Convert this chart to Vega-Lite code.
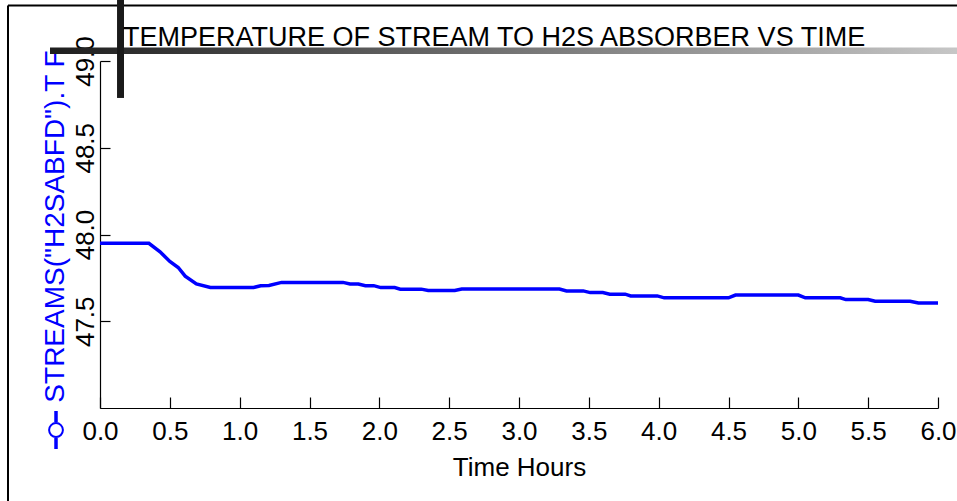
{
  "$schema": "https://vega.github.io/schema/vega-lite/v6.json",
  "autosize": "none",
  "padding": {"left": 100, "top": 61, "right": 19, "bottom": 93},
  "width": 838,
  "height": 347,
  "background": "white",
  "config": {
    "view": {"stroke": null},
    "font": "Liberation Sans",
    "axis": {"grid": false, "domainColor": "black", "tickColor": "black", "labelColor": "black", "labelFont": "Liberation Sans", "titleFont": "Liberation Sans", "titleFontWeight": "normal"}
  },
  "title": {
    "text": "TEMPERATURE OF STREAM TO H2S ABSORBER VS TIME",
    "anchor": "start",
    "frame": "group",
    "dx": 23,
    "dy": 92,
    "offset": 14,
    "baseline": "alphabetic",
    "fontSize": 27,
    "fontWeight": "normal",
    "font": "Liberation Sans",
    "color": "black"
  },
  "layer": [
    {
      "data": {"values": [
        {"t": 0, "v": 47.949}, {"t": 0.35, "v": 47.949}, {"t": 0.43, "v": 47.9}, {"t": 0.5, "v": 47.845},
        {"t": 0.56, "v": 47.81}, {"t": 0.61, "v": 47.76}, {"t": 0.69, "v": 47.715}, {"t": 0.79, "v": 47.695},
        {"t": 1.1, "v": 47.695}, {"t": 1.15, "v": 47.705}, {"t": 1.21, "v": 47.706}, {"t": 1.3, "v": 47.724},
        {"t": 1.74, "v": 47.724}, {"t": 1.79, "v": 47.715}, {"t": 1.85, "v": 47.715}, {"t": 1.9, "v": 47.705},
        {"t": 1.96, "v": 47.705}, {"t": 2.01, "v": 47.694}, {"t": 2.11, "v": 47.694}, {"t": 2.15, "v": 47.685},
        {"t": 2.3, "v": 47.685}, {"t": 2.35, "v": 47.677}, {"t": 2.54, "v": 47.677}, {"t": 2.59, "v": 47.686},
        {"t": 3.29, "v": 47.686}, {"t": 3.34, "v": 47.675}, {"t": 3.46, "v": 47.675}, {"t": 3.51, "v": 47.665},
        {"t": 3.6, "v": 47.665}, {"t": 3.65, "v": 47.656}, {"t": 3.76, "v": 47.656}, {"t": 3.8, "v": 47.646},
        {"t": 3.99, "v": 47.646}, {"t": 4.04, "v": 47.635}, {"t": 4.5, "v": 47.635}, {"t": 4.55, "v": 47.651},
        {"t": 5.0, "v": 47.651}, {"t": 5.05, "v": 47.635}, {"t": 5.3, "v": 47.635}, {"t": 5.34, "v": 47.625},
        {"t": 5.5, "v": 47.625}, {"t": 5.55, "v": 47.615}, {"t": 5.8, "v": 47.615}, {"t": 5.86, "v": 47.605},
        {"t": 6.0, "v": 47.605}
      ]},
      "mark": {"type": "line", "color": "#0000ff", "strokeWidth": 3.5, "clip": false},
      "encoding": {
        "x": {
          "field": "t", "type": "quantitative",
          "scale": {"domain": [0, 6], "nice": false, "zero": false},
          "axis": {
            "title": "Time Hours", "values": [0, 0.5, 1, 1.5, 2, 2.5, 3, 3.5, 4, 4.5, 5, 5.5, 6],
            "format": ".1f", "labelFontSize": 26, "titleFontSize": 26, "tickSize": -11,
            "labelPadding": 21, "titlePadding": 10, "labelFlush": false, "labelOverlap": false,
            "domainWidth": 1.2, "tickWidth": 1.2, "titleColor": "black"
          }
        },
        "y": {
          "field": "v", "type": "quantitative",
          "scale": {"domain": [47, 49], "nice": false, "zero": false},
          "axis": {
            "title": "STREAMS(\"H2SABFD\").T F", "values": [47.5, 48, 48.5, 49],
            "format": ".1f", "labelFontSize": 26, "titleFontSize": 28, "titleColor": "#0000ff",
            "labelAngle": 270, "labelAlign": "center", "labelBaseline": "bottom",
            "tickSize": -10, "labelPadding": 12, "labelFlush": false, "labelOverlap": false,
            "titleX": -31, "titleY": 165, "titleAngle": 270, "titleAlign": "center", "titleBaseline": "bottom",
            "domainWidth": 1.2, "tickWidth": 1.2
          }
        }
      }
    },
    {
      "data": {"values": [{}]},
      "mark": {"type": "rule", "color": "black", "strokeWidth": 2},
      "encoding": {
        "x": {"datum": -0.6587, "type": "quantitative"},
        "x2": {"datum": 6.6},
        "y": {"datum": 49.32, "type": "quantitative"}
      }
    },
    {
      "data": {"values": [{}]},
      "mark": {"type": "rule", "color": "black", "strokeWidth": 2},
      "encoding": {
        "x": {"datum": -0.6587, "type": "quantitative"},
        "y": {"datum": 49.32, "type": "quantitative"},
        "y2": {"datum": 46.2}
      }
    },
    {
      "data": {"values": [{}]},
      "mark": {"type": "rect", "fill": {"gradient": "linear", "x1": 0, "x2": 1, "y1": 0, "y2": 0, "stops": [{"offset": 0, "color": "#1e1e1e"}, {"offset": 1, "color": "#c8c8c8"}]}},
      "encoding": {
        "x": {"datum": -0.358, "type": "quantitative"},
        "x2": {"datum": 6.2},
        "y": {"datum": 49.078, "type": "quantitative"},
        "y2": {"datum": 49.04}
      }
    },
    {
      "data": {"values": [{}]},
      "mark": {"type": "rule", "color": "#1a1a1a", "strokeWidth": 7},
      "encoding": {
        "x": {"datum": 0.147, "type": "quantitative"},
        "y": {"datum": 49.36, "type": "quantitative"},
        "y2": {"datum": 48.787}
      }
    },
    {
      "data": {"values": [{}]},
      "mark": {"type": "point", "shape": "M0,-1L0,-0.41M0,0.41L0,1", "stroke": "#0000ff", "strokeWidth": 3.5, "size": 1444, "opacity": 1, "filled": false},
      "encoding": {
        "x": {"datum": -0.315, "type": "quantitative"},
        "y": {"datum": 46.873, "type": "quantitative"}
      }
    },
    {
      "data": {"values": [{}]},
      "mark": {"type": "point", "shape": "circle", "stroke": "#0000ff", "fill": "white", "strokeWidth": 2, "size": 191, "opacity": 1, "filled": false, "fillOpacity": 1},
      "encoding": {
        "x": {"datum": -0.315, "type": "quantitative"},
        "y": {"datum": 46.873, "type": "quantitative"}
      }
    }
  ]
}
